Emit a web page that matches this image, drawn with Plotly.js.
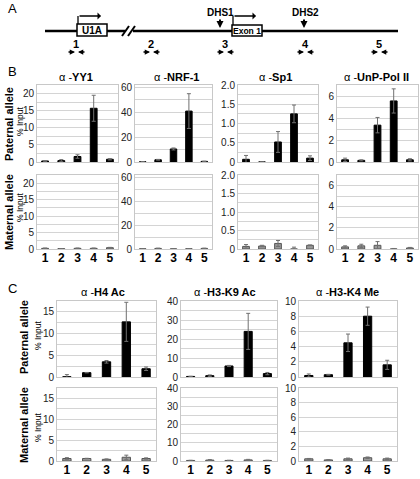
<!DOCTYPE html>
<html><head><meta charset="utf-8">
<script src="https://cdn.plot.ly/plotly-3.0.1.min.js"></script>
<style>body{margin:0;padding:0;background:#fff}#chart{width:420px;height:479px}</style>
</head><body><div id="chart"></div>
<script>
const categories = ['1','2','3','4','5'];

// Panel B - paternal allele (% input)
const yy1Pat = [0.3, 0.4, 1.6, 15.7, 0.8];
const yy1PatErr = [0.1, 0.3, 0.5, 3.8, 0.2];
const nrf1Pat = [0.2, 1.8, 10.5, 41, 0.5];
const nrf1PatErr = [0.1, 0.3, 0.8, 14, 0.2];
const sp1Pat = [0.07, 0, 0.52, 1.25, 0.1];
const sp1PatErr = [0.1, 0, 0.27, 0.23, 0.06];
const polPat = [0.2, 0.15, 3.35, 5.55, 0.2];
const polPatErr = [0.15, 0.05, 0.7, 1.1, 0.1];

// Panel B - maternal allele
const yy1Mat = [0.2, 0.1, 0.2, 0.2, 0.4];
const yy1MatErr = [0.1, 0.05, 0.1, 0.1, 0.1];
const nrf1Mat = [0.2, 0.5, 0.1, 0.2, 0.5];
const nrf1MatErr = [0.1, 0.2, 0.05, 0.1, 0.2];
const sp1Mat = [0.07, 0.08, 0.15, 0.0, 0.1];
const sp1MatErr = [0.05, 0.02, 0.08, 0.05, 0.01];
const polMat = [0.2, 0.3, 0.35, 0.0, 0.1];
const polMatErr = [0.1, 0.15, 0.35, 0.05, 0.05];

// Panel C - paternal allele
const h4Pat = [0.05, 1.0, 3.5, 12.7, 1.9];
const h4PatErr = [0.5, 0.05, 0.3, 4.5, 0.4];
const k9Pat = [0.3, 0.7, 5.8, 24, 1.8];
const k9PatErr = [0.1, 0.4, 0.3, 9.5, 0.6];
const k4Pat = [0.2, 0.3, 4.5, 8.0, 1.6];
const k4PatErr = [0.2, 0.05, 1.15, 1.2, 0.6];

// Panel C - maternal allele
const h4Mat = [0.6, 0.6, 0.4, 0.9, 0.6];
const h4MatErr = [0.2, 0.05, 0.1, 0.5, 0.15];
const k9Mat = [0.3, 0.5, 0.3, 0.6, 0.3];
const k9MatErr = [0.1, 0.3, 0.1, 0.3, 0.1];
const k4Mat = [0.3, 0.15, 0.3, 0.45, 0.3];
const k4MatErr = [0.05, 0.03, 0.1, 0.1, 0.1];

// Tick labels
const yy1Ticks = [0, 5, 10, 15, 20];
const nrf1Ticks = [0, 20, 40, 60];
const sp1Ticks = [0, 0.5, 1.0, 1.5, 2.0];
const sp1TickText = ['0', '0.5', '1.0', '1.5', '2.0'];
const polTicks = [0, 2, 4, 6];
const h4Ticks = [0, 5, 10, 15];
const k9Ticks = [0, 10, 20, 30, 40];
const k4Ticks = [0, 2, 4, 6, 8, 10];

const titlesB = ['YY1', 'NRF-1', 'Sp1', 'UnP-Pol II'];
const titlesC = ['H4 Ac', 'H3-K9 Ac', 'H3-K4 Me'];

const W = 420, H = 479;
const px = x => x / W;
const py = y => 1 - y / H;
const FONT = 'Arial, "Liberation Sans", sans-serif';

const panels = [
  {pat: yy1Pat, pe: yy1PatErr, mat: yy1Mat, me: yy1MatErr, x0: 37, x1: 118, max: 22.5, ticks: yy1Ticks, minor: 2.5, r1: [85,162], r2: [175,249]},
  {pat: nrf1Pat, pe: nrf1PatErr, mat: nrf1Mat, me: nrf1MatErr, x0: 135, x1: 212, max: 62, ticks: nrf1Ticks, minor: 10, r1: [85,162], r2: [175,249]},
  {pat: sp1Pat, pe: sp1PatErr, mat: sp1Mat, me: sp1MatErr, x0: 238, x1: 318, max: 2.0, ticks: sp1Ticks, ttext: sp1TickText, minor: 0.25, r1: [85,162], r2: [175,249]},
  {pat: polPat, pe: polPatErr, mat: polMat, me: polMatErr, x0: 337, x1: 418, max: 7, ticks: polTicks, minor: 1, r1: [85,162], r2: [175,249]},
  {pat: h4Pat, pe: h4PatErr, mat: h4Mat, me: h4MatErr, x0: 57, x1: 156, max: 17.5, ticks: h4Ticks, minor: 2.5, r1: [301,377], r2: [388,461]},
  {pat: k9Pat, pe: k9PatErr, mat: k9Mat, me: k9MatErr, x0: 181, x1: 277, max: 40, ticks: k9Ticks, minor: 5, r1: [301,377], r2: [388,461]},
  {pat: k4Pat, pe: k4PatErr, mat: k4Mat, me: k4MatErr, x0: 299, x1: 397, max: 10, ticks: k4Ticks, minor: null, r1: [301,377], r2: [388,461]}
];

const data = [];
const layout = {
  width: W, height: H,
  margin: {l: 0, r: 0, t: 0, b: 0},
  paper_bgcolor: '#fff', plot_bgcolor: '#fff',
  showlegend: false,
  font: {family: FONT, color: '#000'},
  shapes: [], annotations: []
};

let n = 0;
panels.forEach(p => {
  [[p.pat, p.pe, p.r1, '#000000', '#000000', false], [p.mat, p.me, p.r2, '#999999', '#555555', true]].forEach(([vals, errs, r, col, lcol, showX]) => {
    n += 1;
    const xa = n === 1 ? 'x' : 'x' + n;
    const ya = n === 1 ? 'y' : 'y' + n;
    data.push({
      type: 'bar', x: categories, y: vals, xaxis: xa, yaxis: ya,
      width: 0.42,
      marker: {color: col, line: {color: lcol, width: 1}},
      error_y: {type: 'data', array: errs, visible: true, color: '#707070', thickness: 1, width: 2}
    });
    const xk = n === 1 ? 'xaxis' : 'xaxis' + n;
    const yk = n === 1 ? 'yaxis' : 'yaxis' + n;
    layout[xk] = {
      domain: [px(p.x0), px(p.x1)], anchor: ya,
      type: 'category', range: [-0.5, 4.5],
      showline: true, mirror: true, linecolor: '#c8c8c8', linewidth: 1,
      showgrid: false, ticks: '', showticklabels: showX,
      ticklabelstandoff: -2,
      tickfont: {family: FONT, size: 12, weight: 'bold', color: '#000'},
      fixedrange: true
    };
    const ya_ = {
      domain: [py(r[1]), py(r[0])], anchor: xa,
      range: [0, p.max], tickmode: 'array', tickvals: p.ticks,
      ticktext: p.ttext ? p.ttext : p.ticks.map(String),
      showline: true, mirror: true, linecolor: '#c8c8c8', linewidth: 1,
      showgrid: true, gridcolor: '#d4d4d4', gridwidth: 1,
      zeroline: false, ticks: '', ticklen: 0,
      tickfont: {family: FONT, size: 10, color: '#222'},
      fixedrange: true
    };
    if (p.minor) ya_.minor = {dtick: p.minor, tick0: 0, showgrid: true, gridcolor: '#d4d4d4', gridwidth: 1, ticks: ''};
    layout[yk] = ya_;
  });
});

function ann(text, x, y, opts) {
  layout.annotations.push(Object.assign({
    text: text, x: px(x), y: py(y), xref: 'paper', yref: 'paper',
    showarrow: false, xanchor: 'center', yanchor: 'middle',
    font: {family: FONT, size: 11, color: '#000'}
  }, opts || {}));
}

// Panel letters
ann('A', 12, 9, {font: {family: FONT, size: 13}});
ann('B', 12, 71, {font: {family: FONT, size: 13}});
ann('C', 12, 288, {font: {family: FONT, size: 13}});

// Chart titles
const bCenters = [76, 176, 275, 376];
titlesB.forEach((t, i) => ann('α -<b>' + t + '</b>', bCenters[i], 77, {font: {family: FONT, size: 11}}));
const cCenters = [103, 225, 347];
titlesC.forEach((t, i) => ann('α -<b>' + t + '</b>', cCenters[i], 292, {font: {family: FONT, size: 11}}));

// Row labels
ann('<b>Paternal allele</b>', 9, 124, {textangle: -90, font: {family: FONT, size: 11}});
ann('% Input', 20, 122, {textangle: -90, font: {family: FONT, size: 8.5}});
ann('<b>Maternal allele</b>', 9, 212, {textangle: -90, font: {family: FONT, size: 11}});
ann('% Input', 20, 208, {textangle: -90, font: {family: FONT, size: 8.5}});
ann('<b>Paternal allele</b>', 24, 337, {textangle: -90, font: {family: FONT, size: 11}});
ann('% Input', 38, 336, {textangle: -90, font: {family: FONT, size: 8.5}});
ann('<b>Maternal allele</b>', 24, 425, {textangle: -90, font: {family: FONT, size: 11}});
ann('% Input', 38, 428, {textangle: -90, font: {family: FONT, size: 8.5}});

// Panel A gene diagram
function line(x0, y0, x1, y1, w) {
  layout.shapes.push({type: 'line', xref: 'paper', yref: 'paper', x0: px(x0), y0: py(y0), x1: px(x1), y1: py(y1), line: {color: '#000', width: w}});
}
function rect(x0, y0, x1, y1) {
  layout.shapes.push({type: 'rect', xref: 'paper', yref: 'paper', x0: px(x0), y0: py(y0), x1: px(x1), y1: py(y1), line: {color: '#000', width: 1.5}, fillcolor: '#fff'});
}
function arrow(xTip, yTip, dx, dy, w, size, head) {
  layout.annotations.push({text: '', x: px(xTip), y: py(yTip), xref: 'paper', yref: 'paper', showarrow: true, ax: dx, ay: dy, arrowhead: head || 2, arrowwidth: w, arrowsize: size, arrowcolor: '#000', standoff: 0, startstandoff: 0});
}
line(45, 31, 398, 31, 2.5);
rect(77, 24, 107, 36);
ann('<b>U1A</b>', 92, 30.5, {font: {family: FONT, size: 10}});
line(78, 24, 78, 16, 1.3);
arrow(101, 16, -23, 0, 1.3, 0.9, 1);
// break mark
layout.shapes.push({type: 'rect', xref: 'paper', yref: 'paper', x0: px(125), y0: py(33), x1: px(133), y1: py(29), line: {width: 0}, fillcolor: '#fff'});
line(122, 36, 129, 26, 2);
line(128, 36, 135, 26, 2);
rect(232, 25, 262, 36);
ann('<b>Exon 1</b>', 247, 31, {font: {family: FONT, size: 8.5}});
line(233, 25, 233, 16, 1.3);
arrow(256, 16, -23, 0, 1.3, 0.9, 1);
ann('<b>DHS1</b>', 220, 12, {font: {family: FONT, size: 10}});
arrow(220, 28, 0, -10, 2, 0.7);
ann('<b>DHS2</b>', 305, 12, {font: {family: FONT, size: 10}});
arrow(304, 28, 0, -10, 2, 0.7);

const primerX = [76, 151, 225, 305, 379];
primerX.forEach((x, i) => {
  ann('<b>' + (i + 1) + '</b>', x, 44, {font: {family: FONT, size: 11}});
  arrow(x - 1, 52, -8, 0, 1.5, 0.7);
  arrow(x + 2, 52, 8, 0, 1.5, 0.7);
});

Plotly.newPlot('chart', data, layout, {staticPlot: true, displayModeBar: false});
</script>
</body></html>
